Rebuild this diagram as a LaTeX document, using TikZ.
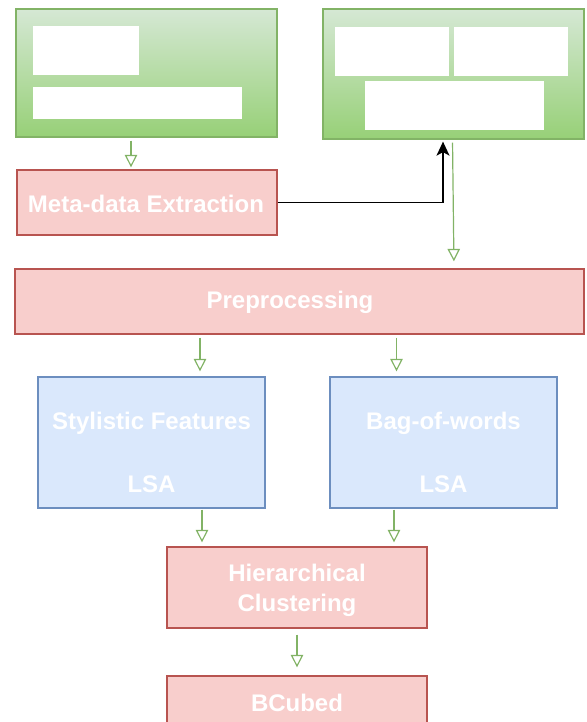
\documentclass[tikz,border=0pt]{standalone}
\usepackage{fontspec}
\setmainfont{Liberation Sans}
\usetikzlibrary{arrows.meta}
\definecolor{gfillTop}{HTML}{D5E8D4}
\definecolor{gfillBot}{HTML}{97D077}
\definecolor{gline}{HTML}{82B366}
\definecolor{rfill}{HTML}{F8CECC}
\definecolor{rline}{HTML}{B85450}
\definecolor{bfill}{HTML}{DAE8FC}
\definecolor{bline}{HTML}{6C8EBF}
\tikzset{
  box/.style={draw, line width=1.3pt, inner sep=0pt},
  greenbox/.style={box, draw=gline, top color=gfillTop, bottom color=gfillBot},
  redbox/.style={box, draw=rline, fill=rfill},
  bluebox/.style={box, draw=bline, fill=bfill},
  whitebox/.style={draw=none, fill=white, inner sep=0pt},
  label/.style={text=white, inner sep=0pt, align=center,
    font=\fontsize{24}{30}\selectfont\bfseries},
  garrow/.style={draw=gline, line width=1.2pt,
    -{Triangle[open, length=12.5pt, width=12.5pt]}},
  karrow/.style={draw=black, line width=1.5pt,
    -{Stealth[length=14pt, width=13pt, inset=3.5pt]}},
}
\begin{document}
\begin{tikzpicture}[x=1pt, y=-1pt]
  \useasboundingbox (0,0) rectangle (586,722);
  \clip (0,0) rectangle (586,722);

  % input blocks
  \node[greenbox, minimum width=261pt, minimum height=128pt] (green1) at (146.5,73) {};
  \node[whitebox, minimum width=106pt, minimum height=49pt] (w1a) at (86,50.5) {};
  \node[whitebox, minimum width=209pt, minimum height=32pt] (w1b) at (137.5,103) {};

  \node[greenbox, minimum width=261pt, minimum height=130pt] (green2) at (453.5,74) {};
  \node[whitebox, minimum width=114pt, minimum height=49pt] (w2a) at (392,51.5) {};
  \node[whitebox, minimum width=114pt, minimum height=49pt] (w2b) at (511,51.5) {};
  \node[whitebox, minimum width=179pt, minimum height=49pt] (w2c) at (454.5,105.5) {};

  % processing stages
  \node[redbox, minimum width=260pt, minimum height=65pt] (meta) at (147,202.5) {};
  \node[label] (metaT) at (146,204) {Meta-data Extraction};

  \node[redbox, minimum width=569pt, minimum height=65pt] (pre) at (299.5,301.5) {};
  \node[label] (preT) at (290,302.5) {Preprocessing};

  \node[bluebox, minimum width=227pt, minimum height=131pt] (sty) at (151.5,442.5) {};
  \node[label] (styA) at (151.5,423.5) {Stylistic Features};
  \node[label] (styB) at (151.5,484.5) {LSA};

  \node[bluebox, minimum width=227pt, minimum height=131pt] (bow) at (443.5,442.5) {};
  \node[label] (bowA) at (443.5,423.5) {Bag-of-words};
  \node[label] (bowB) at (443.5,484.5) {LSA};

  \node[redbox, minimum width=260pt, minimum height=81pt] (hier) at (297,587.5) {};
  \node[label] (hierT) at (297,590) {Hierarchical\\Clustering};

  \node[redbox, minimum width=260pt, minimum height=65pt] (bcub) at (297,708.5) {};
  \node[label] (bcubT) at (297,702.5) {BCubed};

  % connectors
  \draw[garrow, shorten <=3pt, shorten >=2pt] ([xshift=-15.5pt]green1.south) -- ([xshift=-16pt]meta.north);
  \draw[karrow, shorten >=2pt] (meta.east) -| ([xshift=-10.5pt]green2.south);
  \draw[garrow, shorten <=3pt, shorten >=7pt] ([xshift=-1pt]green2.south) -- ([xshift=154.5pt]pre.north);
  \draw[garrow, shorten <=3pt, shorten >=5pt] ([xshift=-99.5pt]pre.south) -- ([xshift=48.5pt]sty.north);
  \draw[garrow, shorten <=3pt, shorten >=5pt] ([xshift=97pt]pre.south) -- ([xshift=-47pt]bow.north);
  \draw[garrow, shorten <=1pt, shorten >=4pt] ([xshift=50.5pt]sty.south) -- ([xshift=-95pt]hier.north);
  \draw[garrow, shorten <=1pt, shorten >=4pt] ([xshift=-49.5pt]bow.south) -- ([xshift=97pt]hier.north);
  \draw[garrow, shorten <=6pt, shorten >=8pt] (hier.south) -- (bcub.north);
\end{tikzpicture}
\end{document}
